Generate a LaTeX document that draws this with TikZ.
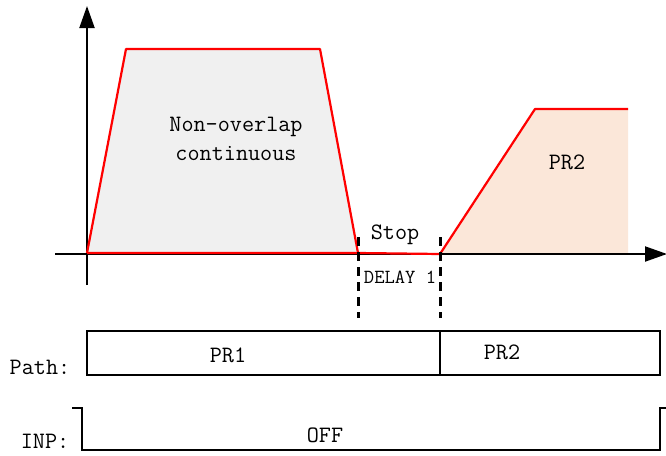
\documentclass[tikz,border=0pt]{standalone}
\usepackage{fontspec}
\usetikzlibrary{arrows.meta}
\definecolor{areagray}{HTML}{F0F0F0}
\definecolor{areapeach}{HTML}{FBE7D9}
\tikzset{
  lbl/.style={font=\fontsize{23.5}{25}\selectfont\ttfamily, inner sep=0pt},
  smalllbl/.style={font=\fontsize{20}{22}\selectfont\ttfamily, inner sep=0pt},
  axis/.style={line width=2pt, -{Triangle[length=22pt,width=15pt]}},
  speed/.style={red, line width=2.2pt, line join=round},
  cut/.style={line width=3pt, dash pattern=on 9pt off 6pt},
  box/.style={line width=1.5pt}
}
\begin{document}
\begin{tikzpicture}[x=1pt,y=-1pt]
\useasboundingbox (0,0) rectangle (666,455);
% filled areas
\fill[areagray] (87,254) -- (126,49) -- (320,49) -- (358,254) -- cycle;
\fill[areapeach] (440,254) -- (535,109) -- (628,109) -- (628,254) -- cycle;
% axes
\draw[axis] (55,254) -- (667,254);
\draw[axis] (87,285) -- (87,6);
% speed profile
\draw[speed] (87,253) -- (126,49) -- (320,49) -- (358,253);
\draw[speed] (87,253) -- (358,253) -- (440,254) -- (535,109) -- (628,109);
% delay marks
\draw[cut] (358,237) -- (358,318);
\draw[cut] (440,237) -- (440,318);
\node[lbl, align=center] (seg1) at (236,139) {Non-overlap\\[4pt]continuous};
\node[lbl] (stop) at (395,235) {Stop};
\node[smalllbl] (delay) at (400,277) {DELAY 1};
\node[lbl] (seg2) at (567,162) {PR2};
% path row
\draw[box] (87,331) rectangle (660,375);
\draw[box] (440,331) -- (440,375);
\node[lbl] (pathname) at (40,367) {Path:};
\node[lbl] (path1) at (228,355) {PR1};
\node[lbl] (path2) at (502,352) {PR2};
% INP row
\draw[box] (72,408) -- (82,408) -- (82,450) -- (660,450) -- (660,408) -- (666,408);
\node[lbl] (inpname) at (45,441) {INP:};
\node[lbl] (inpoff) at (325,435) {OFF};
\end{tikzpicture}
\end{document}
